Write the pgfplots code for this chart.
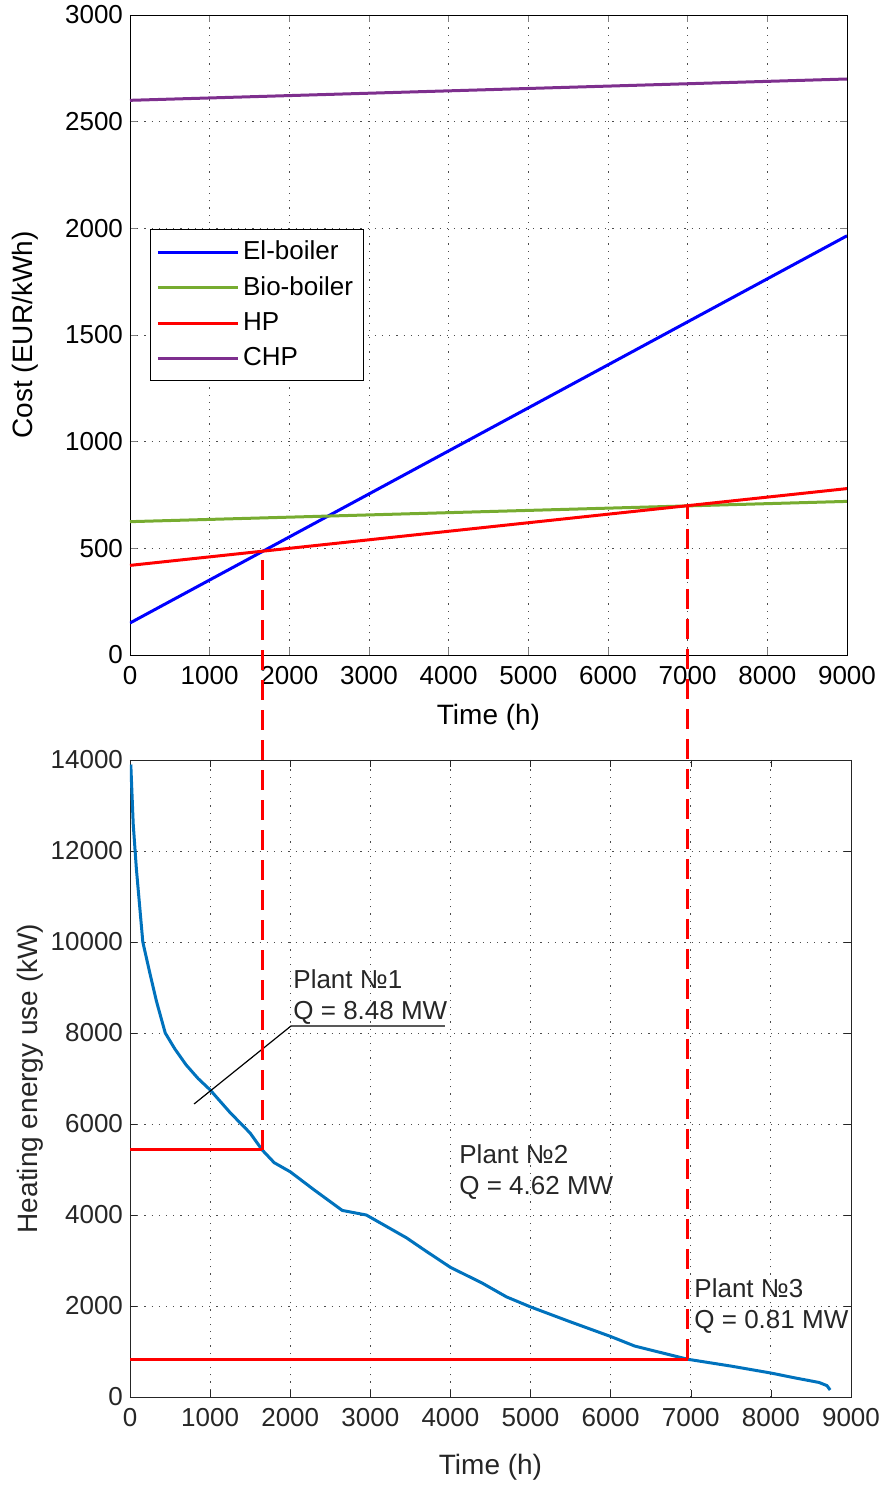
\documentclass[border=0pt]{standalone}
\usepackage{fontspec}
\setmainfont{Liberation Sans}
\usepackage{pgfplots}
\pgfplotsset{compat=1.18}
\definecolor{elblue}{rgb}{0,0,1}
\definecolor{biogreen}{rgb}{0.466,0.674,0.188}
\definecolor{hpred}{rgb}{1,0,0}
\definecolor{chppurple}{rgb}{0.494,0.184,0.556}
\definecolor{mblue}{rgb}{0,0.447,0.741}
\definecolor{mgray}{rgb}{0.15,0.15,0.15}

\pgfplotsset{
  mstyle/.style={
    scale only axis,
    xmin=0, xmax=9000,
    xtick={0,1000,...,9000},
    tick align=inside,
    major tick length=3.5pt,
    xtick pos=both, ytick pos=both,
    grid=major,
    major grid style={dash pattern=on 0.6pt off 3pt, black!70},
    scaled y ticks=false,
    /pgf/number format/1000 sep={},
    /pgf/number format/assume math mode=true,
    tick label style={font=\fontsize{13}{15}\selectfont},
    xticklabel style={yshift=-2pt},
    label style={font=\fontsize{14}{16}\selectfont},
  }
}

\begin{document}
\begin{tikzpicture}
\useasboundingbox (-65pt,-44pt) rectangle (375.5pt,698.5pt);

% upper panel: cost vs. time
\begin{axis}[mstyle,
  at={(0pt,371pt)}, anchor=south west,
  width=358.5pt, height=320pt,
  ymin=0, ymax=3000, ytick={0,500,...,3000},
  xlabel={Time (h)}, ylabel={Cost (EUR/kWh)},
  xlabel style={at={(axis description cs:0.5,-0.098)}, anchor=center},
  ylabel style={at={(axis description cs:-0.146,0.5)}, anchor=center},
  legend style={at={(axis description cs:0.028,0.666)}, anchor=north west,
    draw=black, fill=white, font=\fontsize{13}{15}\selectfont,
    row sep=3pt, inner xsep=3pt, inner ysep=4pt},
  legend cell align=left,
  legend image code/.code={\draw[#1] (0.1cm,0cm) -- (1.5cm,0cm);},
]
\addplot[elblue, line width=1.5pt] coordinates {(0,150) (9000,1965)};
\addlegendentry{El-boiler}
\addplot[biogreen, line width=1.5pt] coordinates {(0,625) (9000,720)};
\addlegendentry{Bio-boiler}
\addplot[hpred, line width=1.5pt] coordinates {(0,420) (9000,780)};
\addlegendentry{HP}
\addplot[chppurple, line width=1.5pt] coordinates {(0,2600) (9000,2700)};
\addlegendentry{CHP}
\coordinate (a1) at (axis cs:1650,490);
\coordinate (a2) at (axis cs:7000,700);
\end{axis}

% lower panel: load duration curve
\begin{axis}[mstyle,
  at={(0pt,0pt)}, anchor=south west,
  width=360.5pt, height=318.5pt,
  ymin=0, ymax=14000, ytick={0,2000,...,14000},
  axis line style={mgray}, tick style={mgray},
  every tick label/.append style={text=mgray},
  xlabel={Time (h)}, ylabel={Heating energy use (kW)},
  xlabel style={at={(axis description cs:0.5,-0.11)}, anchor=center, text=mgray},
  ylabel style={at={(axis description cs:-0.139,0.5)}, anchor=center, text=mgray},
]
\addplot[mblue, line width=1.5pt] coordinates {
 (10,13900) (40,12600) (80,11600) (160,10000) (250,9300) (330,8700) (440,8000)
 (560,7650) (700,7300) (850,7000) (1000,6750) (1250,6250) (1500,5800)
 (1650,5430) (1800,5150) (2000,4950) (2300,4550) (2650,4100) (2950,4000)
 (3200,3750) (3450,3500) (3700,3200) (4000,2850) (4400,2500) (4700,2200)
 (5000,1980) (5500,1650) (6000,1330) (6300,1120) (6960,830) (7500,680)
 (8000,527) (8300,420) (8600,320) (8700,250) (8740,154)};
\addplot[hpred, line width=1.5pt] coordinates {(0,5430) (1650,5430)};
\addplot[hpred, line width=1.5pt] coordinates {(0,830) (6960,830)};
\draw[black, line width=0.6pt] (axis cs:800,6440) -- (axis cs:2010,8154) -- (axis cs:3930,8154);
\node[anchor=base west, inner sep=0pt, align=left, text=mgray,
  font=\fontsize{13}{15.5}\selectfont] at (axis cs:2035,8286) {Plant №1\\Q = 8.48 MW};
\node[anchor=base west, inner sep=0pt, align=left, text=mgray,
  font=\fontsize{13}{15.5}\selectfont] at (axis cs:4107,4440) {Plant №2\\Q = 4.62 MW};
\node[anchor=base west, inner sep=0pt, align=left, text=mgray,
  font=\fontsize{13}{15.5}\selectfont] at (axis cs:7041,1516) {Plant №3\\Q = 0.81 MW};
\coordinate (b1) at (axis cs:1650,5430);
\coordinate (b2) at (axis cs:6960,830);
\end{axis}

\draw[hpred, line width=1.5pt, dash pattern=on 10pt off 5pt] (b1) -- (b1 |- a1);
\draw[hpred, line width=1.5pt, dash pattern=on 10pt off 5pt] (b2) -- (b2 |- a2);
\end{tikzpicture}
\end{document}
